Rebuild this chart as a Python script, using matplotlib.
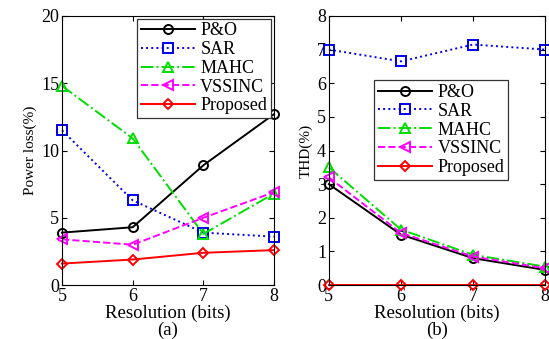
import matplotlib
matplotlib.use('Agg')
import matplotlib.pyplot as plt

plt.rcParams['font.family'] = ['Liberation Serif', 'DejaVu Serif']
plt.rcParams['mathtext.fontset'] = 'stix'

# data
bits = [5, 6, 7, 8]
names = ['P&O', 'SAR', 'MAHC', 'VSSINC', 'Proposed']

loss_po = [3.9, 4.3, 8.9, 12.7]
loss_sar = [11.5, 6.3, 3.9, 3.6]
loss_mahc = [14.8, 10.9, 3.8, 6.8]
loss_vss = [3.4, 3.0, 5.0, 6.9]
loss_prop = [1.6, 1.9, 2.4, 2.6]

thd_po = [3.0, 1.5, 0.8, 0.45]
thd_sar = [7.0, 6.65, 7.15, 7.0]
thd_mahc = [3.5, 1.65, 0.9, 0.55]
thd_vss = [3.2, 1.55, 0.85, 0.5]
thd_prop = [0, 0, 0, 0]

styles = [
    dict(color='black', ls='-', marker='o'),
    dict(color='#0000ee', ls=':', marker='s'),
    dict(color='#00dd00', ls='-.', marker='^'),
    dict(color='#ff00ff', ls='--', marker='<'),
    dict(color='#ff0000', ls='-', marker='D'),
]

fig = plt.figure(figsize=(5.49, 3.39), dpi=100)
ax1 = fig.add_axes([0.113, 0.159, 0.386, 0.794])
ax2 = fig.add_axes([0.599, 0.159, 0.394, 0.794])

def draw(ax, series, ylim, yticks, ylabel, sub, legloc, anchor):
    for name, ys, st in zip(names, series, styles):
        ms = 5 if st['marker'] == 'D' else 6.5
        ax.plot(bits, ys, color=st['color'], ls=st['ls'], lw=1.4,
                marker=st['marker'], ms=ms, mfc='none', mew=1.4, label=name,
                clip_on=False)
    ax.set_xlim(5, 8)
    ax.set_ylim(*ylim)
    ax.set_xticks(bits)
    ax.set_yticks(yticks)
    ax.tick_params(direction='in', top=True, right=True, labelsize=13, pad=2)
    ax.set_ylabel(ylabel, fontsize=11, labelpad=3)
    ax.set_xlabel('Resolution (bits)\n' + sub, fontsize=13.5, labelpad=0, linespacing=0.95)
    leg = ax.legend(loc=legloc, bbox_to_anchor=anchor, fontsize=13, fancybox=False,
                    framealpha=1, edgecolor='#333333', handlelength=3.0, borderpad=0.2,
                    labelspacing=0.1, handletextpad=0.3, borderaxespad=0.0)
    leg.get_frame().set_linewidth(0.9)

draw(ax1, [loss_po, loss_sar, loss_mahc, loss_vss, loss_prop], (0, 20),
     [0, 5, 10, 15, 20], 'Power loss(%)', '(a)', 'upper right', (0.985, 0.99))
draw(ax2, [thd_po, thd_sar, thd_mahc, thd_vss, thd_prop], (0, 8),
     range(0, 9), 'THD(%)', '(b)', 'center', (0.52, 0.576))

fig.savefig('out.png', dpi=100)
